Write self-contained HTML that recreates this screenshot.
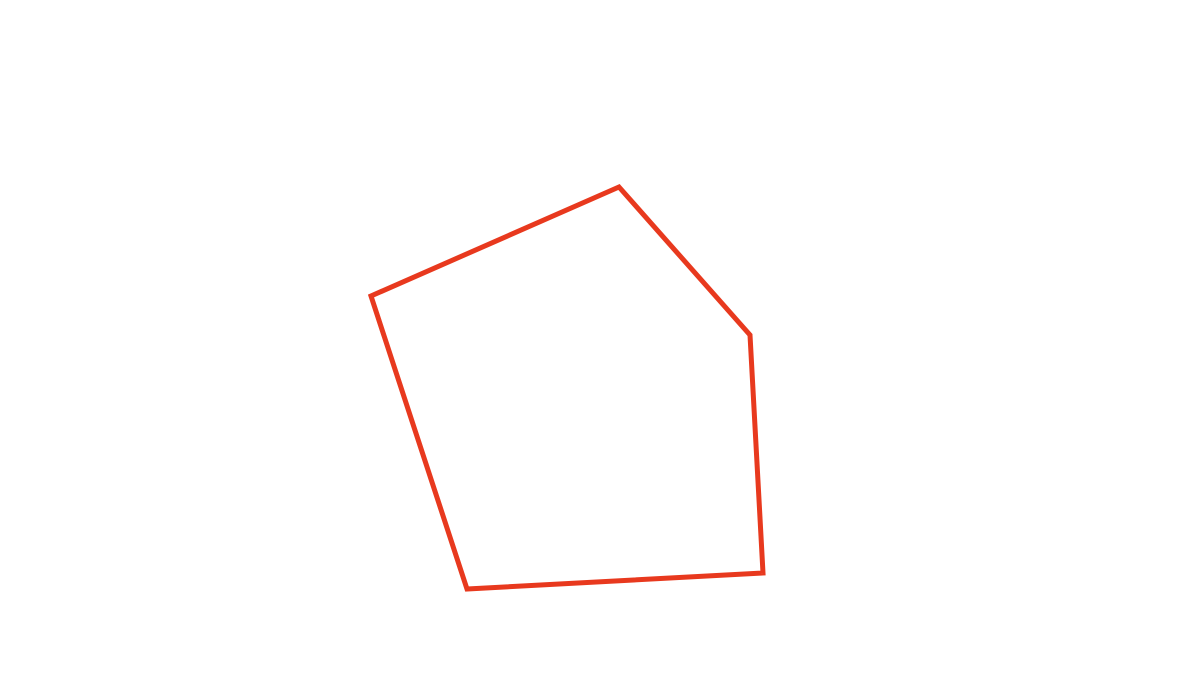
<!DOCTYPE html>
<html><head><style>html,body{margin:0;padding:0;background:#fff;width:1200px;height:700px;overflow:hidden}</style></head>
<body><svg width="1200" height="700" xmlns="http://www.w3.org/2000/svg">
<polygon points="619,187 750,335 763,573 467,589 371,296" fill="none" stroke="#e8391e" stroke-width="5" stroke-linejoin="miter"/>
</svg></body></html>
